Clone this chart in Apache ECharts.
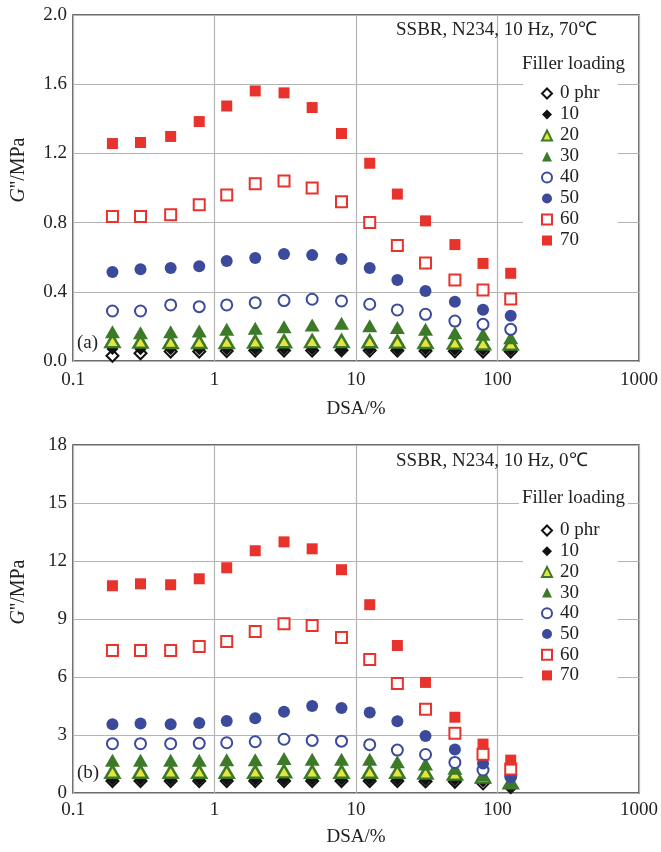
<!DOCTYPE html>
<html>
<head>
<meta charset="utf-8">
<script src="https://cdn.jsdelivr.net/npm/echarts@6/dist/echarts.min.js"></script>
<style>
  html, body { margin: 0; padding: 0; background: #fff; }
  #chart { width: 661px; height: 852px; }
</style>
</head>
<body>
<div id="chart"></div>
<script>
// strain amplitude (DSA, %)
let dsa = [0.19, 0.3, 0.49, 0.78, 1.22, 1.94, 3.1, 4.9, 7.9, 12.5, 19.6, 31, 50, 79, 124];
let loadings = ['0 phr', '10', '20', '30', '40', '50', '60', '70'];

// (a) 70 C, G'' in MPa
let a0  = [0.03, 0.045, 0.055, 0.055, 0.058, 0.06, 0.06, 0.06, 0.062, 0.06, 0.06, 0.058, 0.056, 0.055, 0.055];
let a10 = [0.07, 0.068, 0.068, 0.068, 0.068, 0.068, 0.068, 0.068, 0.068, 0.068, 0.066, 0.066, 0.065, 0.064, 0.064];
let a20 = [0.115, 0.112, 0.11, 0.11, 0.11, 0.112, 0.114, 0.115, 0.115, 0.114, 0.112, 0.11, 0.106, 0.102, 0.1];
let a30 = [0.169, 0.164, 0.169, 0.173, 0.183, 0.189, 0.198, 0.208, 0.218, 0.204, 0.194, 0.183, 0.164, 0.154, 0.135];
let a40 = [0.289, 0.289, 0.324, 0.314, 0.324, 0.337, 0.349, 0.357, 0.347, 0.328, 0.295, 0.27, 0.231, 0.212, 0.183];
let a50 = [0.514, 0.53, 0.537, 0.548, 0.578, 0.595, 0.618, 0.612, 0.59, 0.537, 0.468, 0.405, 0.342, 0.296, 0.262];
let a60 = [0.835, 0.835, 0.846, 0.903, 0.96, 1.024, 1.04, 1.0, 0.92, 0.8, 0.668, 0.566, 0.468, 0.41, 0.358];
let a70 = [1.257, 1.263, 1.298, 1.384, 1.474, 1.561, 1.55, 1.465, 1.315, 1.143, 0.965, 0.81, 0.673, 0.564, 0.507];

// (b) 0 C, G'' in MPa
let b0  = [0.62, 0.62, 0.62, 0.62, 0.62, 0.62, 0.62, 0.62, 0.62, 0.62, 0.62, 0.6, 0.58, 0.5, 0.3];
let b10 = [0.68, 0.68, 0.68, 0.68, 0.68, 0.68, 0.68, 0.68, 0.68, 0.68, 0.68, 0.67, 0.66, 0.6, 0.35];
let b20 = [1.1, 1.1, 1.1, 1.1, 1.1, 1.1, 1.12, 1.1, 1.1, 1.1, 1.1, 1.05, 1.0, 0.85, 0.55];
let b30 = [1.7, 1.7, 1.7, 1.7, 1.72, 1.72, 1.78, 1.75, 1.74, 1.74, 1.62, 1.5, 1.28, 0.95, 0.6];
let b40 = [2.55, 2.55, 2.55, 2.57, 2.6, 2.65, 2.78, 2.72, 2.68, 2.5, 2.22, 1.99, 1.58, 1.19, 0.85];
let b50 = [3.55, 3.59, 3.56, 3.62, 3.73, 3.87, 4.2, 4.5, 4.4, 4.16, 3.71, 2.95, 2.25, 1.53, 0.9];
let b60 = [7.37, 7.37, 7.37, 7.58, 7.84, 8.35, 8.76, 8.66, 8.04, 6.91, 5.67, 4.33, 3.09, 2.01, 1.24];
let b70 = [10.72, 10.82, 10.77, 11.08, 11.65, 12.53, 12.99, 12.63, 11.55, 9.74, 7.63, 5.72, 3.92, 2.53, 1.7];

let yTicksA = [0, 2, 0.4];   // min, max, interval
let yTicksB = [0, 18, 3];

const FONT = 'Liberation Serif';
const FS = 19;
const RED = '#e8332c', BLUE = '#3b4a9b', GREEN = '#3d7a28', YELLOW = '#e6e63a', BLACK = '#111';

// marker style per loading
let markStyle = [
    {symbol: 'diamond', size: 12, item: {color: '#fff', borderColor: BLACK, borderWidth: 2, opacity: 1}},
    {symbol: 'diamond', size: 12, item: {color: BLACK, opacity: 1}},
    {symbol: 'triangle', size: [14, 12], item: {color: YELLOW, borderColor: GREEN, borderWidth: 2.5, opacity: 1}},
    {symbol: 'triangle', size: [15, 13], item: {color: GREEN, opacity: 1}},
    {symbol: 'circle', size: 11, item: {color: '#fff', borderColor: BLUE, borderWidth: 2, opacity: 1}},
    {symbol: 'circle', size: 12, item: {color: BLUE, opacity: 1}},
    {symbol: 'rect', size: 11, item: {color: '#fff', borderColor: RED, borderWidth: 2, opacity: 1}},
    {symbol: 'rect', size: 11, item: {color: RED, opacity: 1}}
];

let seriesA = [a0, a10, a20, a30, a40, a50, a60, a70];
let seriesB = [b0, b10, b20, b30, b40, b50, b60, b70];

let series = [];
[seriesA, seriesB].forEach((set, gi)=>{
    set.forEach((vals, i)=>{
        series.push({
            name: loadings[i],
            type: 'scatter',
            xAxisIndex: gi,
            yAxisIndex: gi,
            symbol: markStyle[i].symbol,
            symbolSize: markStyle[i].size,
            itemStyle: markStyle[i].item,
            emphasis: {disabled: true},
            z: 2 + i,
            data: dsa.map((x, k)=>[x, vals[k]])
        });
    });
});

let xAxisBase = (gi, margin, nameGap)=>({
    type: 'log',
    logBase: 10,
    min: 0.1,
    max: 1000,
    gridIndex: gi,
    name: 'DSA/%',
    nameLocation: 'middle',
    nameGap: nameGap,
    nameTextStyle: {fontFamily: FONT, fontSize: FS, color: '#222', verticalAlign: 'top'},
    axisLine: {show: false},
    axisTick: {show: false},
    axisLabel: {fontFamily: FONT, fontSize: FS, color: '#222', margin: margin,
        formatter: (v)=> String(+v.toPrecision(3))},
    splitLine: {show: true, lineStyle: {color: '#b4b4b4', width: 1.2}}
});

let yAxisBase = (gi, t, fmt)=>({
    type: 'value',
    gridIndex: gi,
    min: t[0],
    max: t[1],
    interval: t[2],
    axisLine: {show: false},
    axisTick: {show: false},
    axisLabel: {fontFamily: FONT, fontSize: FS, color: '#222', margin: 6, formatter: fmt},
    splitLine: {show: true, lineStyle: {color: '#b4b4b4', width: 1.2}}
});

let legendBase = (top, gap)=>({
    orient: 'vertical',
    left: 523,
    top: top,
    data: loadings,
    itemWidth: 10,
    itemHeight: 10,
    itemGap: gap,
    backgroundColor: '#fff',
    padding: [10, 18, 8, 18],
    selectedMode: false,
    textStyle: {fontFamily: FONT, fontSize: FS, color: '#222', lineHeight: 17, padding: [0, 0, 0, 3]}
});

let txtStyle = (text, extra)=>Object.assign({text: text, font: FS + 'px "' + FONT + '"', fill: '#222'}, extra || {});

let yName = (id, x, y)=>({
    type: 'text', id: id, x: x, y: y, rotation: Math.PI / 2, z: 10,
    style: {
        text: '{i|G}\'\'/MPa',
        textAlign: 'center', textVerticalAlign: 'middle',
        font: '20px "' + FONT + '"', fill: '#222',
        rich: {i: {fontFamily: FONT, fontSize: 20, fontStyle: 'italic', fill: '#222'}}
    }
});

let myChart = echarts.init(document.getElementById('chart'), null, {renderer: 'canvas'});

let option = {
    backgroundColor: '#fff',
    animation: false,
    grid: [
        {left: 73, right: 20, top: 15, height: 346, show: true, borderColor: '#3a3a3a', borderWidth: 1.5},
        {left: 73, right: 20, top: 445, height: 348, show: true, borderColor: '#3a3a3a', borderWidth: 1.5}
    ],
    xAxis: [xAxisBase(0, 10, 39), xAxisBase(1, 8, 35)],
    yAxis: [
        yAxisBase(0, yTicksA, (v)=>v.toFixed(1)),
        yAxisBase(1, yTicksB, (v)=>String(v))
    ],
    legend: [legendBase(74, 2), legendBase(511, 1.7)],
    graphic: [
        {type: 'text', id: 'titleA', left: 396, top: 21, z: 10, style: txtStyle('SSBR, N234, 10 Hz, 70\u2103')},
        {type: 'text', id: 'fillA', left: 519, top: 53, z: 10, style: txtStyle('Filler loading', {backgroundColor: '#fff', padding: [2, 3]})},
        {type: 'text', id: 'tagA', left: 77, top: 334, z: 10, style: txtStyle('(a)')},
        {type: 'text', id: 'titleB', left: 396, top: 452, z: 10, style: txtStyle('SSBR, N234, 10 Hz, 0\u2103')},
        {type: 'text', id: 'fillB', left: 519, top: 487, z: 10, style: txtStyle('Filler loading', {backgroundColor: '#fff', padding: [2, 3]})},
        {type: 'text', id: 'tagB', left: 77, top: 764, z: 10, style: txtStyle('(b)')},
        yName('nameA', 19, 170),
        yName('nameB', 19, 592)
    ],
    series: series
};

myChart.setOption(option);
</script>
</body>
</html>
